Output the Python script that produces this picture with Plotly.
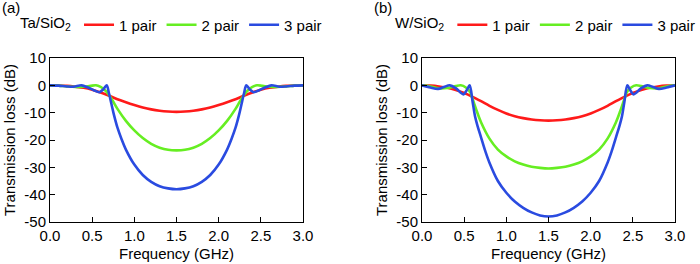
import plotly.graph_objects as go
from plotly.subplots import make_subplots

# ---------------- data ----------------
# Panel (a) Ta/SiO2
ta_red_x = [0, 0.1, 0.2, 0.3, 0.4, 0.5, 0.6, 0.7, 0.8, 0.9, 1.0, 1.1, 1.2, 1.3, 1.4, 1.5,
            1.6, 1.7, 1.8, 1.9, 2.0, 2.1, 2.2, 2.3, 2.4, 2.5, 2.6, 2.7, 2.8, 2.9, 3.0]
ta_red_y = [0, -0.05, -0.2, -0.5, -0.9, -1.6, -2.6, -3.8, -5.1, -6.2, -7.2, -8.1, -8.8, -9.3, -9.6, -9.7,
            -9.6, -9.3, -8.8, -8.1, -7.2, -6.2, -5.1, -3.8, -2.6, -1.6, -0.9, -0.5, -0.2, -0.05, 0]

ta_green_x = [0, 0.1, 0.2, 0.3, 0.4, 0.48, 0.545, 0.6, 0.65, 0.7, 0.75, 0.8, 0.9, 1.0, 1.1, 1.2, 1.3, 1.4,
              1.5,
              1.6, 1.7, 1.8, 1.9, 2.0, 2.1, 2.2, 2.25, 2.3, 2.35, 2.4, 2.455, 2.52, 2.6, 2.7, 2.8, 2.9, 3.0]
ta_green_y = [0, -0.1, -0.4, -0.6, -0.5, -0.2, 0, -0.6, -1.7, -3.5, -6, -8.6, -13, -16.5, -19.3, -21.4, -22.8, -23.6,
              -23.8,
              -23.6, -22.8, -21.4, -19.3, -16.5, -13, -8.6, -6, -3.5, -1.7, -0.6, 0, -0.2, -0.5, -0.6, -0.4, -0.1, 0]

ta_blue_x = [0, 0.1, 0.2, 0.28, 0.375, 0.45, 0.52, 0.585, 0.63, 0.672, 0.7, 0.73, 0.76, 0.8, 0.85, 0.9,
             1.0, 1.1, 1.2, 1.3, 1.4, 1.5,
             1.6, 1.7, 1.8, 1.9, 2.0, 2.1, 2.15, 2.2, 2.24, 2.27, 2.3, 2.328, 2.37, 2.415, 2.48, 2.55,
             2.625, 2.72, 2.8, 2.9, 3.0]
ta_blue_y = [0, -0.1, -0.4, -0.5, 0, -0.8, -1.8, -2.5, -1.5, 0, -3, -7, -11, -15.5, -19.8, -23.5,
             -29, -32.8, -35.3, -36.9, -37.7, -38,
             -37.7, -36.9, -35.3, -32.8, -29, -23.5, -19.8, -15.5, -11, -7, -3, 0, -1.5, -2.5, -1.8, -0.8,
             0, -0.5, -0.4, -0.1, 0]

# Panel (b) W/SiO2
w_red_x = [0, 0.1, 0.2, 0.3, 0.4, 0.5, 0.6, 0.7, 0.8, 0.9, 1.0, 1.1, 1.2, 1.3, 1.4, 1.5,
           1.6, 1.7, 1.8, 1.9, 2.0, 2.1, 2.2, 2.3, 2.4, 2.5, 2.6, 2.7, 2.8, 2.9, 3.0]
w_red_y = [0, -0.1, -0.4, -0.9, -1.7, -2.8, -4.2, -5.8, -7.5, -9.0, -10.3, -11.3, -12.0, -12.5, -12.8, -12.9,
           -12.8, -12.5, -12.0, -11.3, -10.3, -9.0, -7.5, -5.8, -4.2, -2.8, -1.7, -0.9, -0.4, -0.1, 0]

w_green_x = [0, 0.1, 0.2, 0.3, 0.4, 0.46, 0.52, 0.57, 0.6, 0.65, 0.7, 0.8, 0.9, 1.0, 1.1, 1.2, 1.3, 1.4,
             1.5,
             1.6, 1.7, 1.8, 1.9, 2.0, 2.1, 2.2, 2.3, 2.35, 2.4, 2.43, 2.48, 2.54, 2.6, 2.7, 2.8, 2.9, 3.0]
w_green_y = [0, -0.4, -1.1, -1.0, -0.3, 0, -0.8, -2.5, -5, -9.5, -13.5, -19.5, -23.5, -26, -27.8, -29, -29.8, -30.2,
             -30.4,
             -30.2, -29.8, -29, -27.8, -26, -23.5, -19.5, -13.5, -9.5, -5, -2.5, -0.8, 0, -0.3, -1.0, -1.1, -0.4, 0]

w_blue_x = [0, 0.1, 0.19, 0.26, 0.33, 0.4, 0.49, 0.53, 0.565, 0.6, 0.63, 0.66, 0.7, 0.75, 0.8, 0.9,
            1.0, 1.1, 1.2, 1.3, 1.4, 1.5,
            1.6, 1.7, 1.8, 1.9, 2.0, 2.1, 2.2, 2.25, 2.3, 2.34, 2.37, 2.4, 2.435, 2.47, 2.51, 2.6,
            2.67, 2.74, 2.81, 2.9, 3.0]
w_blue_y = [0, -0.8, -1.3, -0.6, 0, -1.0, -3.3, -1.8, 0, -6, -11.5, -15, -19, -24, -28.3, -35,
            -39.3, -42.5, -44.8, -46.5, -47.6, -48.0,
            -47.6, -46.5, -44.8, -42.5, -39.3, -35, -28.3, -24, -19, -15, -11.5, -6, 0, -1.8, -3.3, -1.0,
            0, -0.6, -1.3, -0.8, 0]

series_names = ["1 pair", "2 pair", "3 pair"]
panel_titles = ["Ta/SiO<sub>2</sub>", "W/SiO<sub>2</sub>"]
panel_labels = ["(a)", "(b)"]
y_tickvals = [10, 0, -10, -20, -30, -40, -50]
y_ticktext = ["10", "0", "-10", "-20", "-30", "-40", "-50"]
x_tickvals = [0.0, 0.5, 1.0, 1.5, 2.0, 2.5, 3.0]
x_ticktext = ["0.0", "0.5", "1.0", "1.5", "2.0", "2.5", "3.0"]

colors = ["#FF1A1A", "#66EE22", "#2A4BE0"]
FONT = "Liberation Sans, Arial, sans-serif"

W, H = 700, 264
fig = make_subplots(rows=1, cols=2)

panels = [
    [(ta_red_x, ta_red_y), (ta_green_x, ta_green_y), (ta_blue_x, ta_blue_y)],
    [(w_red_x, w_red_y), (w_green_x, w_green_y), (w_blue_x, w_blue_y)],
]
legend_ids = ["legend", "legend2"]
for p, data in enumerate(panels):
    for i, (xs, ys) in enumerate(data):
        fig.add_trace(go.Scatter(
            x=xs, y=ys, mode="lines", name=series_names[i],
            line=dict(color=colors[i], width=2.6, shape="spline", smoothing=0.9),
            legend=legend_ids[p], showlegend=True,
        ), row=1, col=p + 1)

# domains (pixel based)
x_doms = [(50 / W, 303 / W), (422 / W, 675 / W)]
y_dom = ((H - 222) / H, (H - 58) / H)

axis_common = dict(showgrid=False, zeroline=False, showline=True, linecolor="black", linewidth=1,
                   mirror=True, ticks="inside", ticklen=5, tickcolor="black", tickwidth=1,
                   automargin=False,
                   tickfont=dict(family=FONT, size=15, color="black"))
for c in range(2):
    fig.update_xaxes(domain=list(x_doms[c]), range=[0, 3], tickvals=x_tickvals, ticktext=x_ticktext,
                     title=dict(text="Frequency (GHz)", font=dict(family=FONT, size=15, color="black"),
                                standoff=5),
                     **axis_common, row=1, col=c + 1)
    fig.update_yaxes(domain=list(y_dom), range=[-50, 10], tickvals=y_tickvals, ticktext=y_ticktext,
                     title=dict(text="Transmission loss (dB)", font=dict(family=FONT, size=15, color="black"),
                                standoff=5),
                     **axis_common, row=1, col=c + 1)

leg_common = dict(orientation="h", yanchor="middle", xanchor="left", bgcolor="rgba(0,0,0,0)",
                  font=dict(family=FONT, size=15, color="black"), itemwidth=30,
                  tracegroupgap=0)
fig.update_layout(
    width=W, height=H, margin=dict(l=0, r=0, t=0, b=0, autoexpand=False),
    paper_bgcolor="white", plot_bgcolor="white",
    font=dict(family=FONT, size=15, color="black"),
    legend=dict(x=18 / W, y=1 - 25 / H,
                title=dict(text=panel_titles[0], font=dict(family=FONT, size=15, color="black")),
                **leg_common),
    legend2=dict(x=393 / W, y=1 - 25 / H,
                 title=dict(text=panel_titles[1], font=dict(family=FONT, size=15, color="black")),
                 **leg_common),
)
label_x = [0, 372]
for k in range(2):
    fig.add_annotation(text=panel_labels[k], x=label_x[k] / W, y=1 - 8 / H, xref="paper", yref="paper",
                       xanchor="left", yanchor="middle", showarrow=False,
                       font=dict(family=FONT, size=15, color="black"))

fig.write_html("out.html", config={"displayModeBar": False},
               post_script="document.body.style.margin='0';document.body.style.overflow='hidden';")
